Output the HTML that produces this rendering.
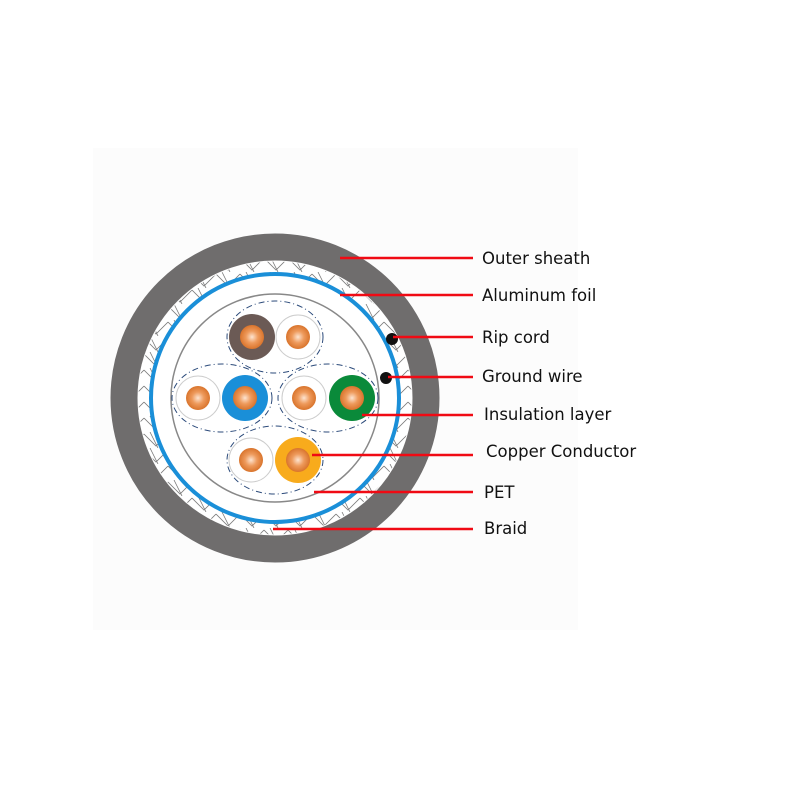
<!DOCTYPE html>
<html><head><style>
body{margin:0;background:#fff}
svg text{font-family:"DejaVu Sans","Liberation Sans",sans-serif;font-size:16.5px;fill:#111}
</style></head><body>
<svg width="800" height="800" viewBox="0 0 800 800">
<defs>
<radialGradient id="cu" cx="50%" cy="50%" r="50%">
<stop offset="0" stop-color="#fde4d0"/><stop offset="0.5" stop-color="#ee9a5c"/><stop offset="1" stop-color="#d9742c"/>
</radialGradient>
<pattern id="br" width="24" height="16" patternUnits="userSpaceOnUse">
<path d="M0 2L12 14L24 2M6 0L14 16" stroke="#7a7a7a" stroke-width="0.8" fill="none"/>
</pattern>
</defs>
<rect x="93" y="148" width="485" height="482" fill="#fcfcfc"/>
<circle cx="275" cy="398" r="151" fill="none" stroke="#6f6d6d" stroke-width="27"/>
<circle cx="275" cy="398" r="137" fill="#fff"/>
<circle cx="275" cy="398" r="131" fill="none" stroke="url(#br)" stroke-width="11"/>
<circle cx="275" cy="398" r="124" fill="#fff" stroke="#1a8fd8" stroke-width="4"/>
<circle cx="275" cy="398" r="104" fill="#fff" stroke="#888" stroke-width="1.5"/>
<g fill="none" stroke="#2b4a7a" stroke-width="1" stroke-dasharray="6 3 1 3">
<ellipse cx="275" cy="337" rx="48" ry="36"/>
<ellipse cx="222" cy="398" rx="50" ry="34"/>
<ellipse cx="328" cy="398" rx="50" ry="34"/>
<ellipse cx="275" cy="460" rx="48" ry="34"/>
</g>
<g stroke="#ccc" stroke-width="1">
<circle cx="252" cy="337" r="23" fill="#6b5a55" stroke="none"/>
<circle cx="298" cy="337" r="22" fill="#fff"/>
<circle cx="198" cy="398" r="22" fill="#fff"/>
<circle cx="245" cy="398" r="23" fill="#1a8fd8" stroke="none"/>
<circle cx="304" cy="398" r="22" fill="#fff"/>
<circle cx="352" cy="398" r="23" fill="#0a8a3a" stroke="none"/>
<circle cx="251" cy="460" r="22" fill="#fff"/>
<circle cx="298" cy="460" r="23" fill="#f8ab1c" stroke="none"/>
</g>
<g fill="url(#cu)">
<circle cx="252" cy="337" r="12"/><circle cx="298" cy="337" r="12"/>
<circle cx="198" cy="398" r="12"/><circle cx="245" cy="398" r="12"/>
<circle cx="304" cy="398" r="12"/><circle cx="352" cy="398" r="12"/>
<circle cx="251" cy="460" r="12"/><circle cx="298" cy="460" r="12"/>
</g>
<circle cx="392" cy="339" r="6" fill="#111"/>
<circle cx="386" cy="378" r="6" fill="#111"/>
<g stroke="#f00a14" stroke-width="2.5">
<line x1="340" y1="258" x2="473" y2="258"/>
<line x1="340" y1="295" x2="473" y2="295"/>
<line x1="393" y1="337" x2="473" y2="337"/>
<line x1="388" y1="377" x2="473" y2="377"/>
<line x1="362" y1="415" x2="473" y2="415"/>
<line x1="312" y1="455" x2="473" y2="455"/>
<line x1="314" y1="492" x2="473" y2="492"/>
<line x1="273" y1="529" x2="473" y2="529"/>
</g>
<text x="482" y="264">Outer sheath</text>
<text x="482" y="301">Aluminum foil</text>
<text x="482" y="343">Rip cord</text>
<text x="482" y="382">Ground wire</text>
<text x="484" y="420">Insulation layer</text>
<text x="486" y="457">Copper Conductor</text>
<text x="484" y="498">PET</text>
<text x="484" y="534">Braid</text>
</svg>
</body></html>
